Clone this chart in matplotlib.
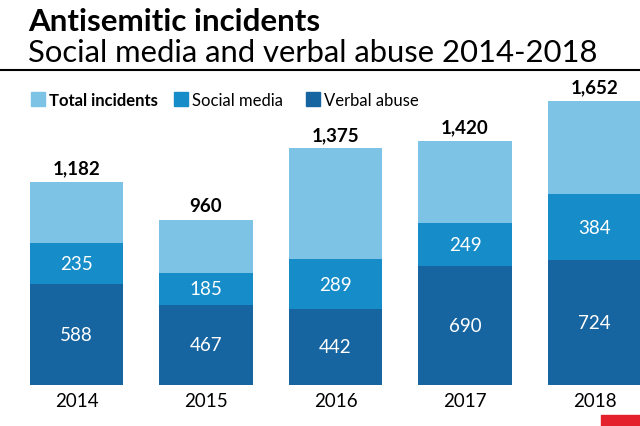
import numpy as np
import matplotlib.pyplot as plt
from matplotlib.patches import Rectangle
from matplotlib.lines import Line2D

plt.rcParams['font.family'] = ['Lato', 'DejaVu Sans']

# Data
years = ['2014', '2015', '2016', '2017', '2018']
total = [1182, 960, 1375, 1420, 1652]
social = [235, 185, 289, 249, 384]
verbal = [588, 467, 442, 690, 724]

light = '#7dc3e6'
mid = '#168cc8'
dark = '#1664a0'

total = np.array(total)
social = np.array(social)
verbal = np.array(verbal)
rest = total - social - verbal
x = np.arange(len(years))

fig = plt.figure(figsize=(6.4, 4.27), dpi=100)
ax = fig.add_axes([0, 41 / 427, 1, 311 / 427])

w = 0.72
ax.bar(x, verbal, w, color=dark)
ax.bar(x, social, w, bottom=verbal, color=mid)
ax.bar(x, rest, w, bottom=verbal + social, color=light)

# value labels
for i in range(len(years)):
    ax.text(x[i], verbal[i] / 2, f'{verbal[i]}', ha='center', va='center',
            color='white', fontsize=13.5)
    ax.text(x[i], verbal[i] + social[i] / 2, f'{social[i]}', ha='center',
            va='center', color='white', fontsize=13.5)
    ax.annotate(f'{total[i]:,}', (x[i], total[i]), xytext=(0, 4),
                textcoords='offset points', ha='center', va='bottom',
                fontsize=13.5, fontweight='bold')

ax.set_xlim(-0.591, 4.351)
ax.set_ylim(0, 1808)
ax.set_xticks(x)
ax.set_xticklabels(years, fontsize=13.5)
ax.tick_params(axis='x', length=0, pad=5)
ax.set_yticks([])
for s in ax.spines.values():
    s.set_visible(False)

# title block
fig.text(28 / 640, 1 - 31 / 427, 'Antisemitic incidents', fontsize=22.5,
         fontweight='bold', va='baseline')
fig.text(28 / 640, 1 - 62 / 427, 'Social media and verbal abuse 2014-2018',
         fontsize=22.3, va='baseline')
fig.add_artist(Line2D([0, 1], [1 - 71 / 427] * 2, color='black', lw=1.5))

# legend
items = [('Total incidents', light, 'bold', 31),
         ('Social media', mid, 'normal', 174),
         ('Verbal abuse', dark, 'normal', 306)]
for label, c, wt, px in items:
    fig.add_artist(Rectangle((px / 640, 1 - 107 / 427), 14 / 640, 14 / 427,
                             color=c, transform=fig.transFigure))
    fig.text((px + 18) / 640, 1 - 106 / 427, label, fontsize=12,
             fontweight=wt, va='baseline')

# red tag bottom right
fig.add_artist(Rectangle((601 / 640, 0), 39 / 640, 11 / 427,
                         color='#e3202b', transform=fig.transFigure))

fig.savefig('out.png', dpi=100)
